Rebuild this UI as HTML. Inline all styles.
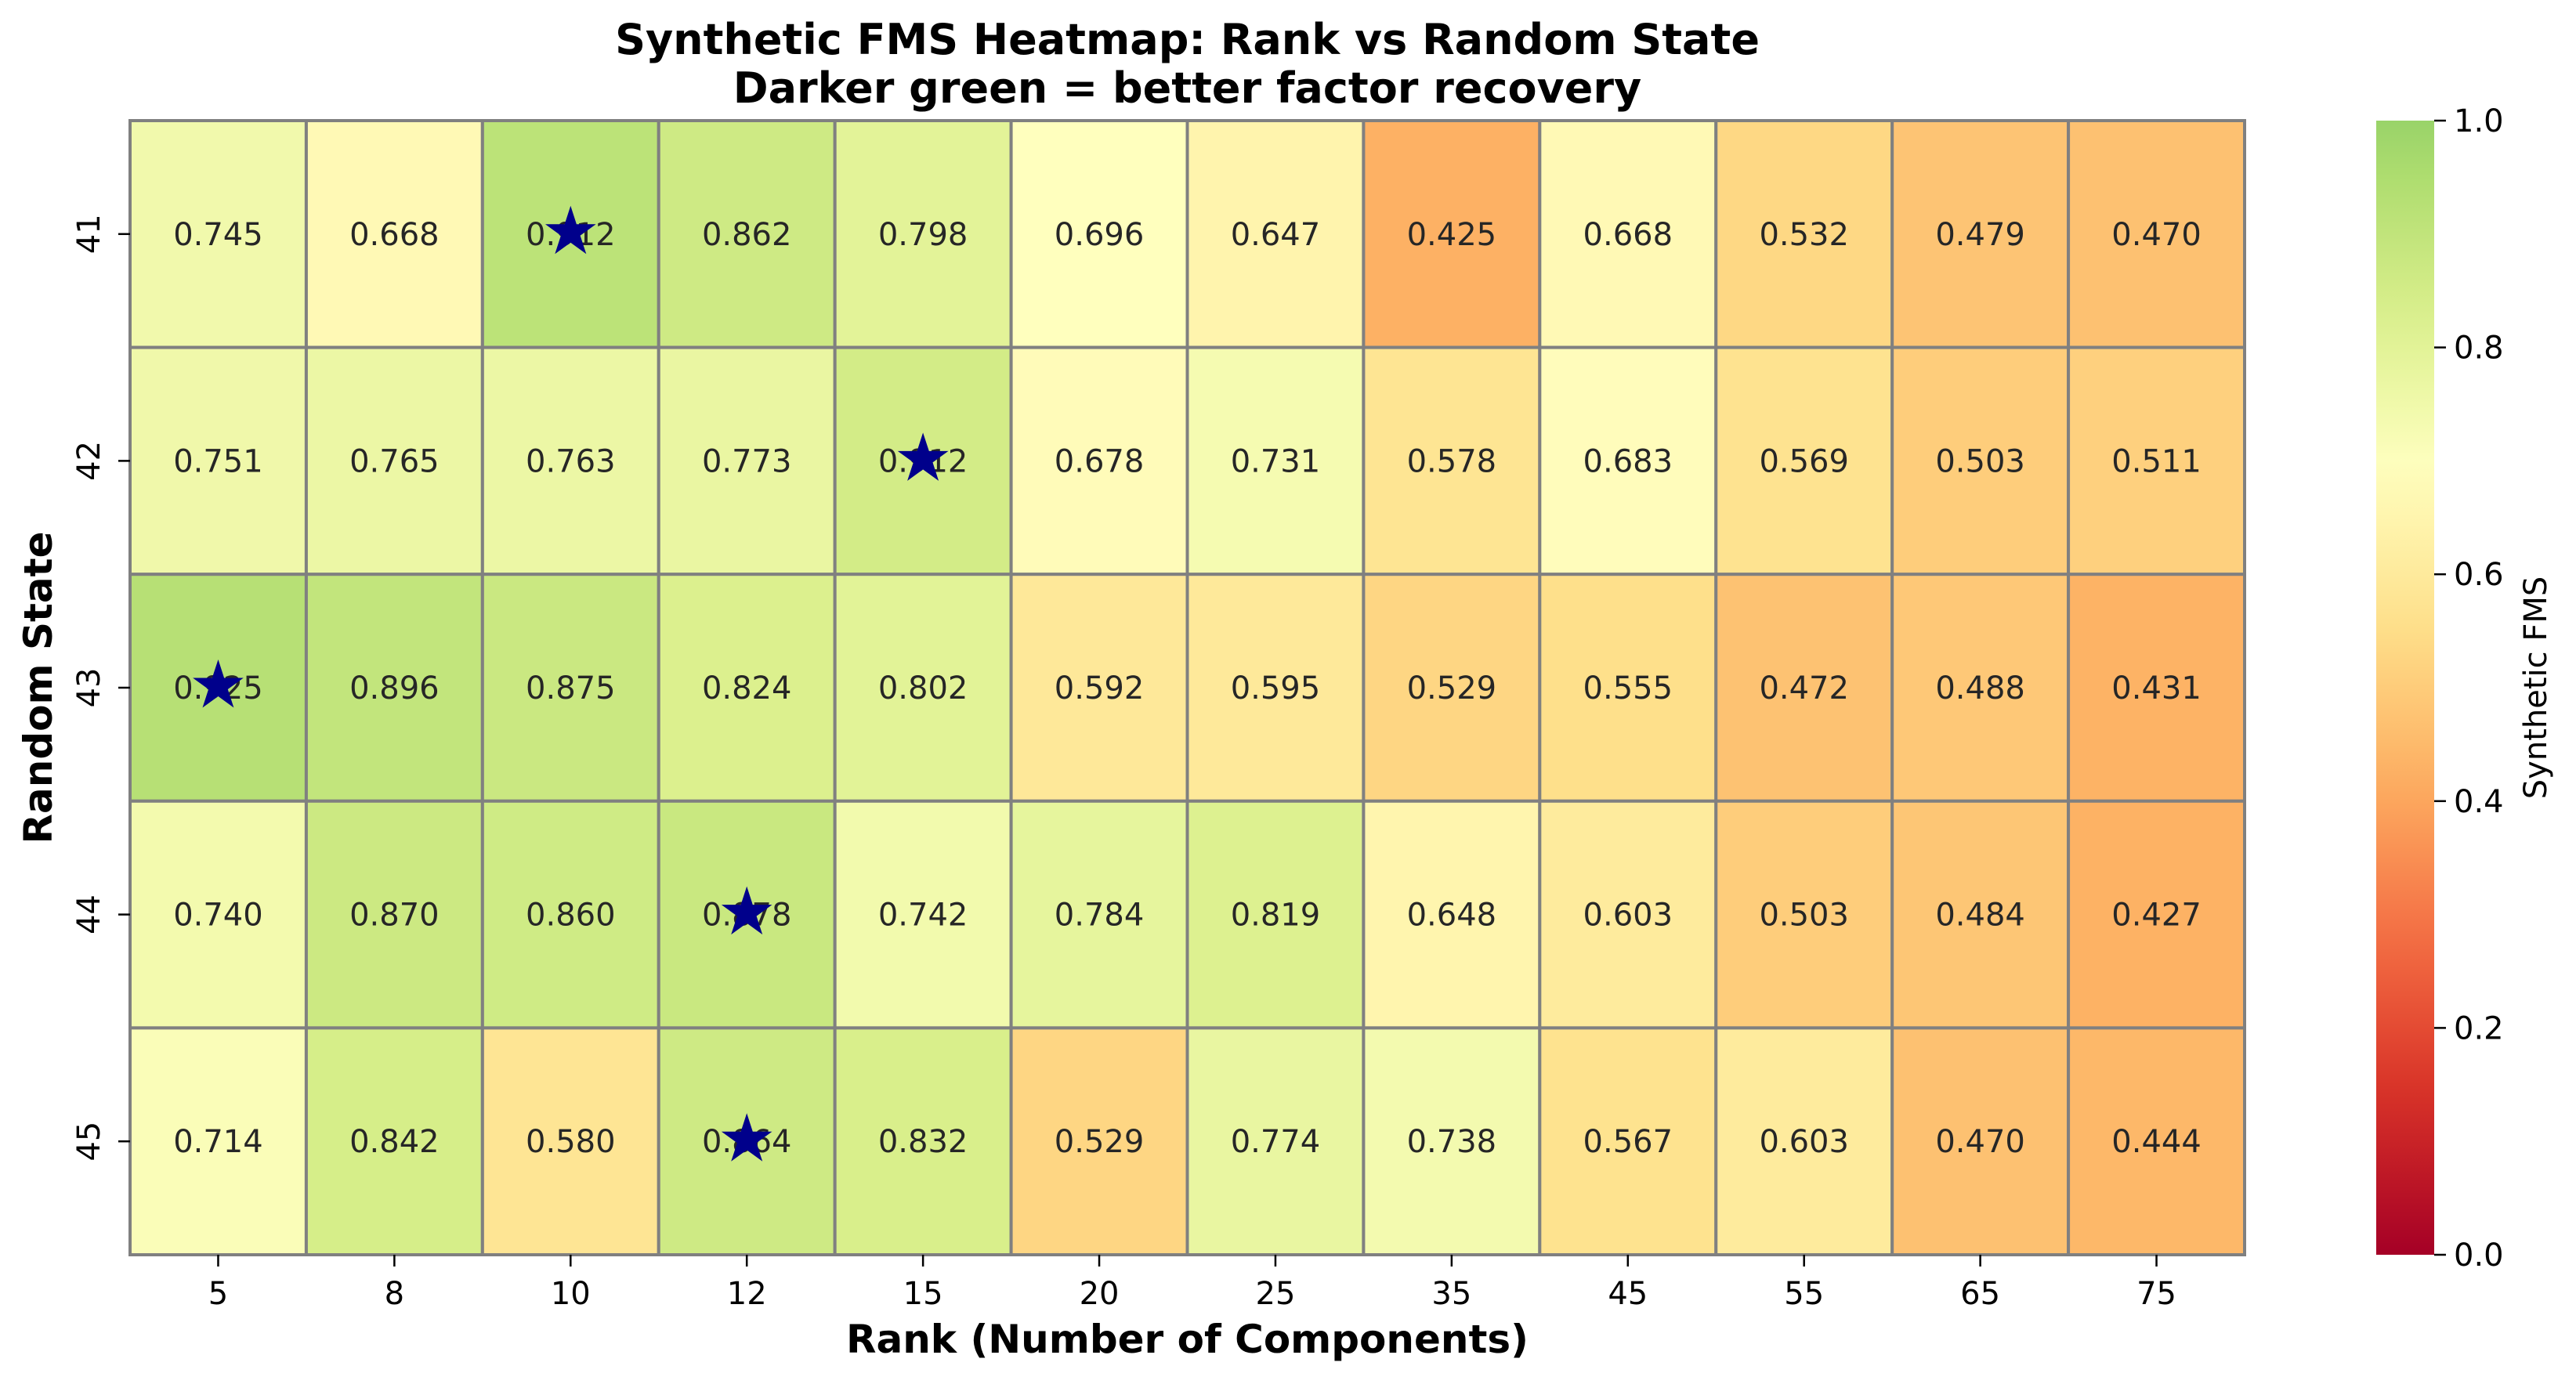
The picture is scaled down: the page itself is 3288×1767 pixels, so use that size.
<!DOCTYPE html>
<html><head><meta charset="utf-8"><style>html,body{margin:0;padding:0;background:#fff}svg{display:block}</style></head>
<body>
<svg id="s" xmlns="http://www.w3.org/2000/svg" width="3288" height="1767" viewBox="0 0 3288 1767" font-family="'DejaVu Sans','Liberation Sans',sans-serif"></svg>
<script>
const data=[[.745,.668,.912,.862,.798,.696,.647,.425,.668,.532,.479,.470],
[.751,.765,.763,.773,.912,.678,.731,.578,.683,.569,.503,.511],
[.925,.896,.875,.824,.802,.592,.595,.529,.555,.472,.488,.431],
[.740,.870,.860,.878,.742,.784,.819,.648,.603,.503,.484,.427],
[.714,.842,.580,.864,.832,.529,.774,.738,.567,.603,.470,.444]];
const colorOverride={"1,4":0.85};
const stars=[[0,2],[1,4],[2,0],[3,3],[4,3]];
const cols=[5,8,10,12,15,20,25,35,45,55,65,75], rows=[41,42,43,44,45];
const stops=["#a50026","#d73027","#f46d43","#fdae61","#fee08b","#ffffbf","#d9ef8b","#a6d96a","#66bd63","#1a9850","#006837"];
function hx(c){return [1,3,5].map(i=>parseInt(c.substr(i,2),16));}
function cm(v){let t=Math.max(0,Math.min(1,v))*0.72*10;let i=Math.min(9,Math.floor(t));let f=t-i;let a=hx(stops[i]),b=hx(stops[i+1]);return "rgb("+a.map((x,k)=>Math.round(x+(b[k]-x)*f)).join(",")+")";}
const L=166,R=2865,T=154,B=1602,cw=(R-L)/12,rh=(B-T)/5;
let h="";
for(let r=0;r<5;r++)for(let c=0;c<12;c++){
 let x=L+c*cw,y=T+r*rh;
 let cv=colorOverride[r+","+c]!==undefined?colorOverride[r+","+c]:data[r][c];
 h+=`<rect x="${x}" y="${y}" width="${cw}" height="${rh}" fill="${cm(cv)}" stroke="#808080" stroke-width="4"/>`;
 h+=`<text x="${x+cw/2}" y="${y+rh/2+14}" font-size="40" fill="#262626" text-anchor="middle">${data[r][c].toFixed(3)}</text>`;
}
function star(cx,cy,R1){let r2=R1*0.382,p=[];for(let i=0;i<10;i++){let a=-Math.PI/2+i*Math.PI/5,rr=i%2?r2:R1;p.push((cx+rr*Math.cos(a)).toFixed(1)+","+(cy+rr*Math.sin(a)).toFixed(1));}return `<polygon points="${p.join(" ")}" fill="#00008b"/>`;}
for(const [r,c] of stars)h+=star(L+(c+.5)*cw,T+(r+.5)*rh-2,34);
for(let c=0;c<12;c++){let x=L+(c+.5)*cw;h+=`<line x1="${x}" y1="${B}" x2="${x}" y2="${B+15}" stroke="#000" stroke-width="2.5"/><text x="${x}" y="${B+63}" font-size="40" text-anchor="middle">${cols[c]}</text>`;}
for(let r=0;r<5;r++){let y=T+(r+.5)*rh;h+=`<line x1="${L}" y1="${y}" x2="${L-15}" y2="${y}" stroke="#000" stroke-width="2.5"/><text transform="translate(127,${y}) rotate(-90)" font-size="40" text-anchor="middle">${rows[r]}</text>`;}
h+=`<text x="${(L+R)/2}" y="1727" font-size="50" font-weight="bold" text-anchor="middle">Rank (Number of Components)</text>`;
h+=`<text transform="translate(66,${(T+B)/2}) rotate(-90)" font-size="50" font-weight="bold" text-anchor="middle">Random State</text>`;
h+=`<text x="${(L+R)/2}" y="69" font-size="54" font-weight="bold" text-anchor="middle">Synthetic FMS Heatmap: Rank vs Random State</text>`;
h+=`<text x="${(L+R)/2}" y="131" font-size="54" font-weight="bold" text-anchor="middle">Darker green = better factor recovery</text>`;
let g='<defs><linearGradient id="cb" x1="0" y1="1" x2="0" y2="0">';
for(let i=0;i<=20;i++)g+=`<stop offset="${i/20}" stop-color="${cm(i/20)}"/>`;
g+='</linearGradient></defs>';
const CX=3033,CW=74;
h=g+h+`<rect x="${CX}" y="${T}" width="${CW}" height="${B-T}" fill="url(#cb)"/>`;
for(let i=0;i<=5;i++){let v=i/5,y=B-v*(B-T);h+=`<line x1="${CX+CW}" y1="${y}" x2="${CX+CW+15}" y2="${y}" stroke="#000" stroke-width="2.5"/><text x="${CX+CW+25}" y="${y+14}" font-size="40">${v.toFixed(1)}</text>`;}
h+=`<text transform="translate(3250,${(T+B)/2}) rotate(-90)" font-size="40" text-anchor="middle">Synthetic FMS</text>`;
document.getElementById("s").innerHTML=h;
</script>
</body></html>
